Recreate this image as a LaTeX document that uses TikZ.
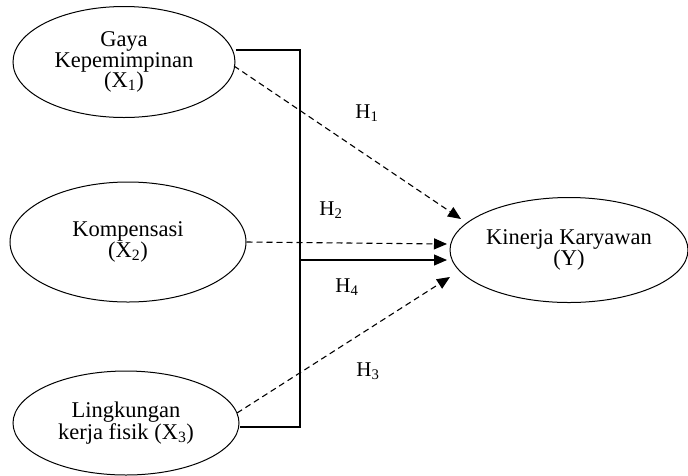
\documentclass[tikz,border=0pt]{standalone}
\usepackage{fontspec}
\setmainfont{Liberation Serif}
\usetikzlibrary{shapes.geometric,arrows.meta}
\begin{document}
\begin{tikzpicture}[x=1pt,y=-1pt,
  var/.style={draw,ellipse,line width=1pt,inner sep=0pt,align=center,
    font=\fontsize{22.5}{20.5}\selectfont},
  lbl/.style={font=\fontsize{21}{21}\selectfont,inner sep=0pt},
  ln/.style={line width=1.1pt},
  arr/.style={line width=1.1pt,-{Triangle[length=13pt,width=11pt]}},
  darr/.style={arr,dash pattern=on 6pt off 4pt}]
\useasboundingbox (0,0) rectangle (688,475);
\node[var,minimum width=222pt,minimum height=111pt] (x1) at (124,62) {Gaya\\Kepemimpinan\\(X\textsubscript{1})};
\node[var,minimum width=236pt,minimum height=120pt] (x2) at (128,242) {Kompensasi\\(X\textsubscript{2})};
\node[var,minimum width=226pt,minimum height=104pt] (x3) at (126,423) {Lingkungan\\kerja fisik (X\textsubscript{3})};
\node[var,minimum width=238pt,minimum height=105pt] (y) at (569,250) {Kinerja Karyawan\\(Y)};
\coordinate (t) at (300,50);
\coordinate (b) at (300,427);
\coordinate (m) at (300,260);
\coordinate (s1) at (234,66);
\coordinate (e1) at (461,219);
\coordinate (e2) at (447,244);
\coordinate (s3) at (237,413);
\coordinate (e3) at (450,277);
\draw[ln] (x1.east |- t) -- (t) -- (b) -- (x3.east |- b);
\draw[arr] (m) -- (447,260);
\draw[darr] (s1) -- (e1);
\draw[darr] (x2.east) -- (e2);
\draw[darr] (s3) -- (e3);
\node[lbl] (h1) at (367,113) {H\textsubscript{1}};
\node[lbl] (h2) at (331,210) {H\textsubscript{2}};
\node[lbl] (h4) at (347,287) {H\textsubscript{4}};
\node[lbl] (h3) at (368,371) {H\textsubscript{3}};
\end{tikzpicture}
\end{document}
